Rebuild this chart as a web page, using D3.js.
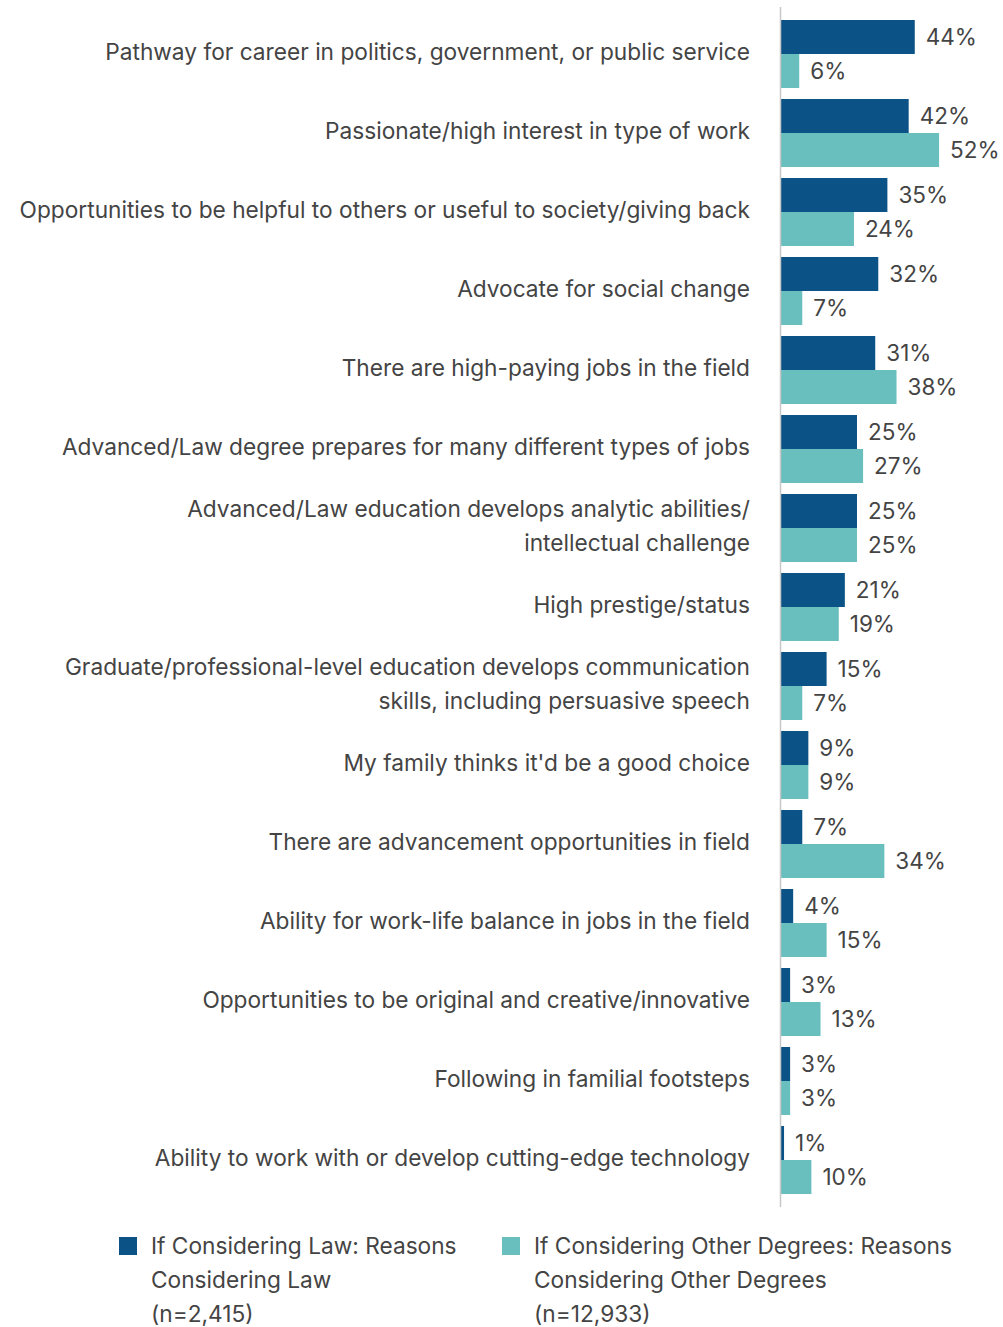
<!DOCTYPE html>
<html>
<head>
<meta charset="utf-8">
<script src="https://cdn.jsdelivr.net/npm/d3@7"></script>
<style>
  html, body { margin: 0; padding: 0; background: #fff; }
  svg { display: block; }
  text { font-family: Inter, "Noto Sans", sans-serif; fill: #444; }
</style>
</head>
<body>
<svg id="chart" width="1003" height="1327"></svg>
<script>
// Reasons for considering a degree, by group
const categories = [
  ["Pathway for career in politics, government, or public service"],
  ["Passionate/high interest in type of work"],
  ["Opportunities to be helpful to others or useful to society/giving back"],
  ["Advocate for social change"],
  ["There are high-paying jobs in the field"],
  ["Advanced/Law degree prepares for many different types of jobs"],
  ["Advanced/Law education develops analytic abilities/", "intellectual challenge"],
  ["High prestige/status"],
  ["Graduate/professional-level education develops communication", "skills, including persuasive speech"],
  ["My family thinks it'd be a good choice"],
  ["There are advancement opportunities in field"],
  ["Ability for work-life balance in jobs in the field"],
  ["Opportunities to be original and creative/innovative"],
  ["Following in familial footsteps"],
  ["Ability to work with or develop cutting-edge technology"]
];
const lawValues   = [44, 42, 35, 32, 31, 25, 25, 21, 15, 9, 7, 4, 3, 3, 1];
const otherValues = [6, 52, 24, 7, 38, 27, 25, 19, 7, 9, 34, 15, 13, 3, 10];

const seriesKeys = ["law", "other"];
const seriesColors = ["#0b5387", "#69bebe"];
const legendLabels = [
  ["If Considering Law: Reasons", "Considering Law", "(n=2,415)"],
  ["If Considering Other Degrees: Reasons", "Considering Other Degrees", "(n=12,933)"]
];

const svg = d3.select("#chart");
const axisX = 781;
const labelX = 750;

const rows = categories.map((lines, i) => ({
  key: lines.join(" "),
  lines,
  values: [lawValues[i], otherValues[i]]
}));

const x = d3.scaleLinear().domain([0, 100]).range([axisX, axisX + 304]);
const y = d3.scaleBand()
  .domain(rows.map(d => d.key))
  .range([20, 1194])
  .paddingInner(11 / 79)
  .paddingOuter(0);
const ySub = d3.scaleBand().domain(seriesKeys).range([0, y.bandwidth()]);

// Category labels
const labelFont = 22.7;
const lineH = 34;
const lab = svg.append("g").attr("class", "cat-labels");
rows.forEach(r => {
  const cy = y(r.key) + y.bandwidth() / 2 - 2;
  const n = r.lines.length;
  const t = lab.append("text")
    .attr("x", labelX)
    .attr("text-anchor", "end")
    .attr("font-size", labelFont);
  r.lines.forEach((ln, j) => {
    t.append("tspan")
      .attr("x", labelX)
      .attr("y", cy + (j - (n - 1) / 2) * lineH)
      .attr("dy", "0.35em")
      .text(ln);
  });
});

// Bars
const groups = svg.append("g").selectAll("g")
  .data(rows).join("g")
  .attr("transform", d => `translate(0,${y(d.key)})`);

groups.selectAll("rect")
  .data(d => d.values.map((v, i) => ({ v, k: seriesKeys[i], i })))
  .join("rect")
  .attr("x", x(0))
  .attr("y", d => ySub(d.k))
  .attr("width", d => x(d.v) - x(0))
  .attr("height", ySub.bandwidth())
  .attr("fill", d => seriesColors[d.i]);

groups.selectAll("text.val")
  .data(d => d.values.map((v, i) => ({ v, k: seriesKeys[i], i })))
  .join("text")
  .attr("class", "val")
  .attr("x", d => x(d.v) + 11)
  .attr("y", d => ySub(d.k) + ySub.bandwidth() / 2)
  .attr("dy", "0.35em")
  .attr("font-size", 22.5)
  .text(d => d.v + "%");

// Vertical baseline
svg.append("line")
  .attr("x1", axisX - 0.5).attr("x2", axisX - 0.5)
  .attr("y1", 7).attr("y2", 1207)
  .attr("stroke", "#c8c8c8").attr("stroke-width", 1.5);

// Legend
const legendPos = [119, 502];
const leg = svg.append("g");
legendLabels.forEach((lines, i) => {
  const g = leg.append("g").attr("transform", `translate(${legendPos[i]},1237)`);
  g.append("rect").attr("width", 18).attr("height", 18).attr("fill", seriesColors[i]);
  const t = g.append("text").attr("font-size", 22.7);
  lines.forEach((ln, j) => {
    t.append("tspan").attr("x", 32).attr("y", 17 + j * 34).text(ln);
  });
});
</script>
</body>
</html>
